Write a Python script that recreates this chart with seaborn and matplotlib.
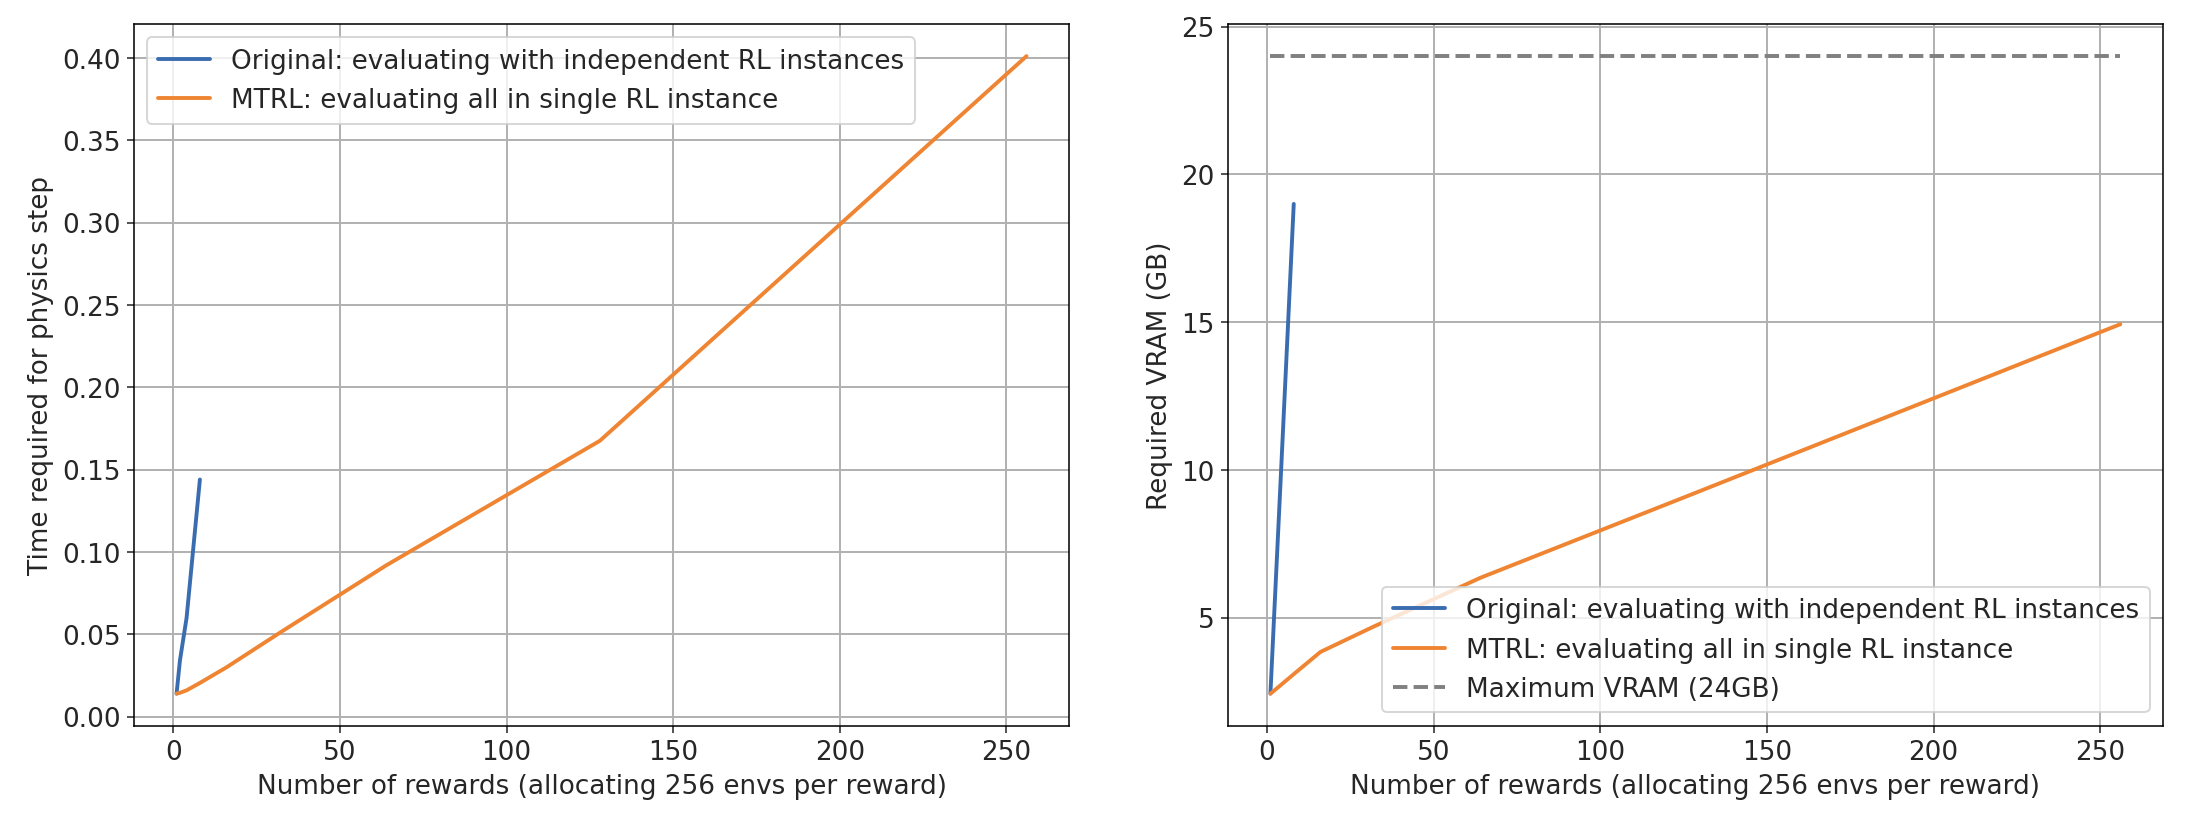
import numpy as np
import pandas as pd
import matplotlib
matplotlib.use('Agg')
import matplotlib.pyplot as plt
import seaborn as sns

# data
rewards_orig = [1, 2, 4, 8]
time_orig = [0.014, 0.034, 0.060, 0.144]
vram_orig = [2.43, 4.8, 9.5, 19.0]

rewards_mtrl = [1, 2, 4, 8, 16, 32, 64, 128, 256]
time_mtrl = [0.014, 0.0145, 0.016, 0.0205, 0.030, 0.051, 0.092, 0.1675, 0.401]
vram_mtrl = [2.43, 2.52, 2.71, 3.09, 3.84, 4.7, 6.35, 9.2, 14.93]

max_vram = 24
label_orig = 'Original: evaluating with independent RL instances'
label_mtrl = 'MTRL: evaluating all in single RL instance'
label_max = 'Maximum VRAM (24GB)'
xlabel = 'Number of rewards (allocating 256 envs per reward)'

blue = '#3a6db0'
orange = '#ef8532'

sns.set_style('ticks')
plt.rcParams['font.family'] = ['DejaVu Sans']
plt.rcParams['font.size'] = 13.5

fig, axes = plt.subplots(1, 2, figsize=(15.7, 5.97), dpi=140)
fig.subplots_adjust(left=0.061, right=0.984, top=0.970, bottom=0.131, wspace=0.17)

df_o = pd.DataFrame({'x': rewards_orig, 't': time_orig, 'v': vram_orig})
df_m = pd.DataFrame({'x': rewards_mtrl, 't': time_mtrl, 'v': vram_mtrl})

lw = 2.0

# left: time per physics step
ax = axes[0]
sns.lineplot(data=df_o, x='x', y='t', ax=ax, color=blue, linewidth=lw, label=label_orig)
sns.lineplot(data=df_m, x='x', y='t', ax=ax, color=orange, linewidth=lw, label=label_mtrl)
ax.set_xlabel(xlabel)
ax.set_ylabel('Time required for physics step')
ax.set_yticks(np.arange(0, 0.41, 0.05))
ax.set_xticks([0, 50, 100, 150, 200, 250])
ax.grid(True, color='#b0b0b0', linewidth=1)
ax.legend(loc='upper left')

# right: VRAM
ax = axes[1]
sns.lineplot(data=df_o, x='x', y='v', ax=ax, color=blue, linewidth=lw, label=label_orig)
sns.lineplot(data=df_m, x='x', y='v', ax=ax, color=orange, linewidth=lw, label=label_mtrl)
ax.plot([rewards_mtrl[0], rewards_mtrl[-1]], [max_vram, max_vram], color='gray',
        linestyle='--', linewidth=lw, label=label_max)
ax.set_xlabel(xlabel)
ax.set_ylabel('Required VRAM (GB)')
ax.set_xticks([0, 50, 100, 150, 200, 250])
ax.set_yticks([5, 10, 15, 20, 25])
ax.grid(True, color='#b0b0b0', linewidth=1)
ax.legend(loc='lower right')

for a in axes:
    for s in a.spines.values():
        s.set_color('black')

fig.savefig('out.png', dpi=140)
